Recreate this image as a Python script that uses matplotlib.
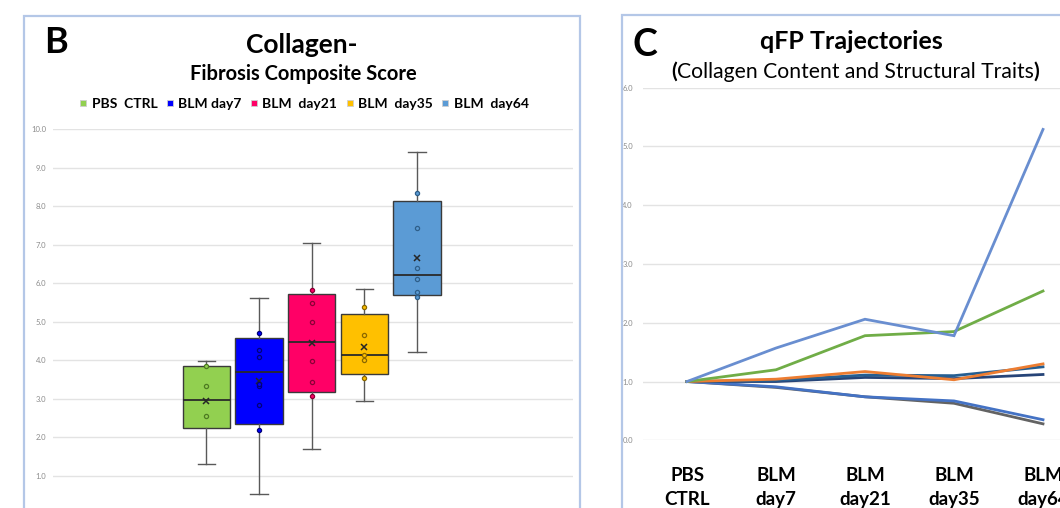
import matplotlib
matplotlib.use("Agg")
import matplotlib.pyplot as plt
from matplotlib.lines import Line2D
from matplotlib.patches import Rectangle

plt.rcParams["font.family"] = ["Lato", "DejaVu Sans"]

# ---- panel B: box plot data ----
box_labels = ["PBS  CTRL", "BLM day7", "BLM  day21", "BLM  day35", "BLM  day64"]
box_colors = ["#92D050", "#0000FF", "#FF0066", "#FFC000", "#5B9BD5"]
box_dark = ["#4E7A22", "#00007A", "#8A0036", "#8A6800", "#2F5F8A"]
q1 = [2.24, 2.34, 3.17, 3.65, 5.68]
med = [2.97, 3.70, 4.47, 4.14, 6.22]
q3 = [3.86, 4.58, 5.72, 5.20, 8.12]
whis_lo = [1.30, 0.52, 1.70, 2.94, 4.20]
whis_hi = [3.99, 5.62, 7.04, 5.85, 9.40]
means = [2.93, 3.47, 4.44, 4.33, 6.66]
pts_pbs = [2.55, 3.32, 3.84]
pts_d7 = [2.19, 2.84, 3.34, 3.37, 4.07, 4.26, 4.71]
pts_d21 = [3.06, 3.43, 3.97, 4.98, 5.48, 5.81]
pts_d35 = [3.54, 4.01, 4.14, 4.64, 5.39]
pts_d64 = [5.63, 5.77, 6.10, 6.38, 7.44, 8.35]
inner_points = [pts_pbs, pts_d7, pts_d21, pts_d35, pts_d64]

# ---- panel C: trajectories ----
stages = ["PBS\nCTRL", "BLM\nday7", "BLM\nday21", "BLM\nday35", "BLM\nday64"]
traj_gray = [1.0, 0.90, 0.74, 0.63, 0.28]
traj_blue = [1.0, 0.91, 0.74, 0.67, 0.35]
traj_navy = [1.0, 1.00, 1.07, 1.05, 1.12]
traj_steel = [1.0, 1.02, 1.11, 1.10, 1.25]
traj_orange = [1.0, 1.04, 1.17, 1.03, 1.30]
traj_green = [1.0, 1.20, 1.78, 1.85, 2.54]
traj_light = [1.0, 1.57, 2.06, 1.78, 5.29]
traj_series = [traj_gray, traj_blue, traj_navy, traj_steel, traj_orange, traj_green, traj_light]
traj_colors = ["#636363", "#4472C4", "#264478", "#255E91", "#ED7D31", "#70AD47", "#698ED0"]

W, H = 1060, 508
fig = plt.figure(figsize=(W / 100, H / 100), dpi=100)
fig.patch.set_facecolor("white")

def fx(px):
    return px / W

def fy(py):
    return 1 - py / H

border = "#B4C7E7"
fig.add_artist(Rectangle((fx(24), fy(540)), fx(580) - fx(24), fy(16.5) - fy(540),
                         transform=fig.transFigure, fill=False, edgecolor=border, lw=1.6))
fig.add_artist(Rectangle((fx(622), fy(540)), fx(1100) - fx(622), fy(15.5) - fy(540),
                         transform=fig.transFigure, fill=False, edgecolor=border, lw=1.6))

# ---------------- panel B ----------------
axB = fig.add_axes([fx(53), fy(514.2), fx(573) - fx(53), fy(129) - fy(514.2)])
stats = []
for i in range(5):
    stats.append(dict(med=med[i], q1=q1[i], q3=q3[i], whislo=whis_lo[i],
                      whishi=whis_hi[i], mean=means[i], fliers=[]))
positions = list(range(5))
bp = axB.bxp(stats, positions=positions, widths=0.9, patch_artist=True, showmeans=True,
             capwidths=0.33,
             boxprops=dict(edgecolor="#3A3A3A", linewidth=1.0),
             medianprops=dict(color="#2A2A2A", linewidth=1.3),
             whiskerprops=dict(color="#595959", linewidth=1.0),
             capprops=dict(color="#595959", linewidth=1.0),
             meanprops=dict(marker="x", markeredgecolor="#262626", markersize=5,
                            markeredgewidth=1.1))
for patch, c in zip(bp["boxes"], box_colors):
    patch.set_facecolor(c)
for i, pts in enumerate(inner_points):
    axB.plot([positions[i]] * len(pts), pts, linestyle="none", marker="o", markersize=3,
             markerfacecolor=box_colors[i], markeredgecolor=box_dark[i],
             markeredgewidth=0.9, zorder=5)

axB.set_xlim(2 - 4.91, 2 + 4.96)
axB.set_ylim(0, 10)
axB.set_yticks(range(1, 11))
axB.set_yticklabels([f"{v:.1f}" for v in range(1, 11)])
axB.tick_params(axis="y", length=0, labelsize=5.5, labelcolor="#8C8C8C", pad=5)
axB.set_xticks([])
axB.grid(axis="y", color="#E3E3E3", linewidth=1.0)
axB.set_axisbelow(True)
for s in axB.spines.values():
    s.set_visible(False)

fig.text(fx(44), fy(53), "B", fontsize=26, fontweight="bold", ha="left", va="baseline")
fig.text(fx(302), fy(53), "Collagen-", fontsize=19, fontweight="bold", ha="center", va="baseline")
fig.text(fx(303), fy(80), "Fibrosis Composite Score", fontsize=14.5, fontweight="bold",
         ha="center", va="baseline")
handles = [Line2D([], [], linestyle="none", marker="s", markersize=5, markerfacecolor=c,
                  markeredgecolor="#CFCFCF", markeredgewidth=0.6) for c in box_colors]
fig.legend(handles, box_labels, loc="center", bbox_to_anchor=(fx(304), fy(104)), ncol=5,
           frameon=False, prop=dict(weight="bold", size=10), handlelength=0.6,
           handletextpad=0.3, columnspacing=0.6, borderpad=0)

# ---------------- panel C ----------------
axC = fig.add_axes([fx(642.5), fy(440.3), fx(1087.5) - fx(642.5), fy(87.7) - fy(440.3)])
xs = list(range(len(stages)))
for ys, c in zip(traj_series, traj_colors):
    axC.plot(xs, ys, color=c, linewidth=2.0, solid_joinstyle="miter")
axC.set_xlim(-0.5, 4.5)
axC.set_ylim(0, 6)
axC.set_yticks(range(0, 7))
axC.set_yticklabels([f"{v:.1f}" for v in range(0, 7)])
axC.tick_params(axis="y", length=0, labelsize=5.5, labelcolor="#8C8C8C", pad=7)
axC.set_xticks(xs)
axC.set_xticklabels(stages, fontsize=13.5, fontweight="bold", linespacing=1.55)
axC.tick_params(axis="x", length=0, pad=19)
axC.grid(axis="y", color="#E3E3E3", linewidth=1.0)
axC.set_axisbelow(True)
for s in axC.spines.values():
    s.set_visible(False)

fig.text(fx(632), fy(56), "C", fontsize=27, fontweight="bold", ha="left", va="baseline")
fig.text(fx(851), fy(49), "qFP Trajectories", fontsize=18, fontweight="bold",
         ha="center", va="baseline")

# subtitle with bold brackets
fig.canvas.draw()
renderer = fig.canvas.get_renderer()
parts = [("(", "bold"), ("Collagen Content and Structural Traits", "normal"), (")", "bold")]
texts = [fig.text(0, fy(78), s, fontsize=15.2, fontweight=w, ha="left", va="baseline")
         for s, w in parts]
widths = [t.get_window_extent(renderer).width for t in texts]
x0 = 855 - sum(widths) / 2
for t, w in zip(texts, widths):
    t.set_x(fx(x0))
    x0 += w

fig.savefig("out.png", dpi=100)
